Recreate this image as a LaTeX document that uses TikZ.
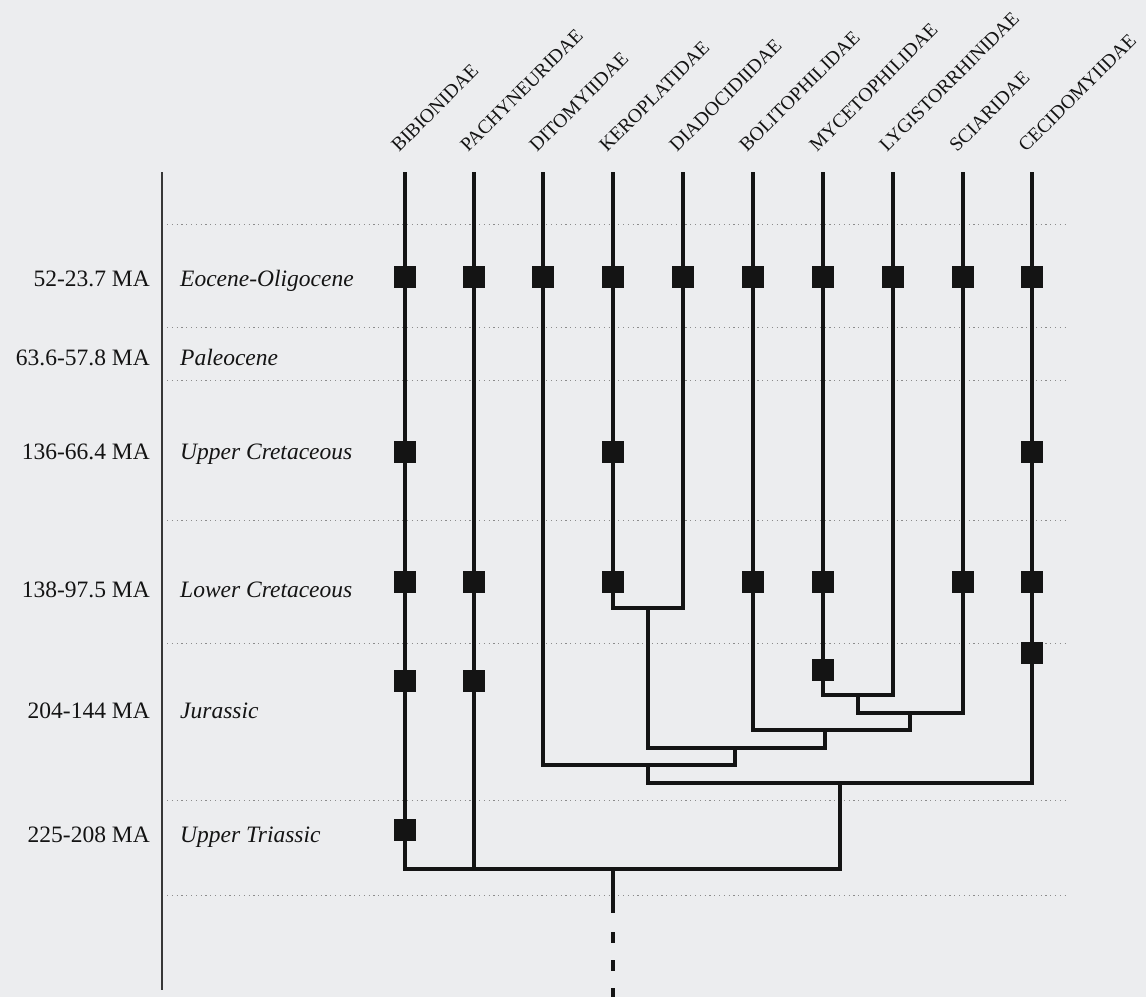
\documentclass[tikz,border=0pt]{standalone}
\usepackage{fontspec}
\setmainfont{Liberation Serif}
\definecolor{paper}{RGB}{236,237,239}
\definecolor{ink}{RGB}{20,20,20}
\definecolor{rule}{RGB}{140,140,140}
\begin{document}
\begin{tikzpicture}[x=1pt,y=-1pt,
  branch/.style={line width=3.4pt, draw=ink},
  axisline/.style={line width=2pt, draw=ink!85},
  gridline/.style={line width=1pt, draw=rule, dash pattern=on 1.2pt off 3.6pt},
  fossil/.style={rectangle, fill=ink, minimum size=22pt, inner sep=0pt},
  taxon/.style={rotate=45, anchor=base west, inner sep=0pt, text=ink,
    font=\fontsize{19.5}{20}\selectfont},
  agelabel/.style={anchor=base east, inner sep=0pt, text=ink,
    font=\fontsize{23.5}{26}\selectfont},
  epochlabel/.style={anchor=base west, inner sep=0pt, text=ink,
    font=\fontsize{23.5}{26}\selectfont\itshape}]

% page and background
\fill[paper] (0,0) rectangle (1146,997);
\useasboundingbox (0,0) rectangle (1146,997);

% stratigraphic boundaries
\foreach \y in {224,327,380,520,643,800,895}
  \draw[gridline] (167,\y) -- (1065,\y);

% time axis
\coordinate (axtop) at (162,172);
\coordinate (axbot) at (162,990);
\draw[axisline] (axtop) -- (axbot);

% ages and epochs
\node[agelabel] (a1) at (150,286) {52-23.7 MA};
\node[epochlabel] (e1) at (180,286) {Eocene-Oligocene};
\node[agelabel] (a2) at (150,365) {63.6-57.8 MA};
\node[epochlabel] (e2) at (180,365) {Paleocene};
\node[agelabel] (a3) at (150,459) {136-66.4 MA};
\node[epochlabel] (e3) at (180,459) {Upper Cretaceous};
\node[agelabel] (a4) at (150,597) {138-97.5 MA};
\node[epochlabel] (e4) at (180,597) {Lower Cretaceous};
\node[agelabel] (a5) at (150,718) {204-144 MA};
\node[epochlabel] (e5) at (180,718) {Jurassic};
\node[agelabel] (a6) at (150,842) {225-208 MA};
\node[epochlabel] (e6) at (180,842) {Upper Triassic};

% families: tip of each lineage and its name
\foreach \n/\x/\t in {B/405/BIBIONIDAE, P/474/PACHYNEURIDAE, Dt/543/DITOMYIIDAE,
    K/613/KEROPLATIDAE, Da/683/DIADOCIDIIDAE, Bo/753/BOLITOPHILIDAE,
    My/823/MYCETOPHILIDAE, Ly/893/LYGISTORRHINIDAE, Sc/963/SCIARIDAE,
    Ce/1032/CECIDOMYIIDAE} {
  \coordinate (t\n) at (\x,172);
  \node[taxon] (l\n) at (\x-6,153) {\t};
}

% branching points
\coordinate (n1) at (648,608);
\coordinate (n2) at (858,695);
\coordinate (n3) at (910,713);
\coordinate (n4) at (825,730);
\coordinate (n5) at (735,748);
\coordinate (n6) at (648,765);
\coordinate (n7) at (840,783);
\coordinate (root) at (613,869);
\coordinate (stemend) at (613,913);
\coordinate (dashstart) at (613,932);
\coordinate (dashend) at (613,997);

% tree
\draw[branch] (tK) |- (n1) -| (tDa);
\draw[branch] (tMy) |- (n2) -| (tLy);
\draw[branch] (n2) |- (n3) -| (tSc);
\draw[branch] (tBo) |- (n4) -| (n3);
\draw[branch] (n1) |- (n5) -| (n4);
\draw[branch] (tDt) |- (n6) -| (n5);
\draw[branch] (n6) |- (n7) -| (tCe);
\draw[branch] (tB) |- (root) -| (n7);
\draw[branch] (tP) |- (root);
\draw[branch] (root) -- (stemend);
\draw[branch, dash pattern=on 11pt off 17pt] (dashstart) -- (dashend);

% fossil records
\foreach \n/\x in {B/405,P/474,Dt/543,K/613,Da/683,Bo/753,My/823,Ly/893,Sc/963,Ce/1032}
  \node[fossil] (f1\n) at (\x,277) {};
\foreach \n/\x in {B/405,K/613,Ce/1032}
  \node[fossil] (f2\n) at (\x,452) {};
\foreach \n/\x in {B/405,P/474,K/613,Bo/753,My/823,Sc/963,Ce/1032}
  \node[fossil] (f3\n) at (\x,582) {};
\node[fossil] (f4Ce) at (1032,653) {};
\node[fossil] (f4My) at (823,670) {};
\node[fossil] (f4B) at (405,681) {};
\node[fossil] (f4P) at (474,681) {};
\node[fossil] (f5B) at (405,830) {};
\end{tikzpicture}
\end{document}
